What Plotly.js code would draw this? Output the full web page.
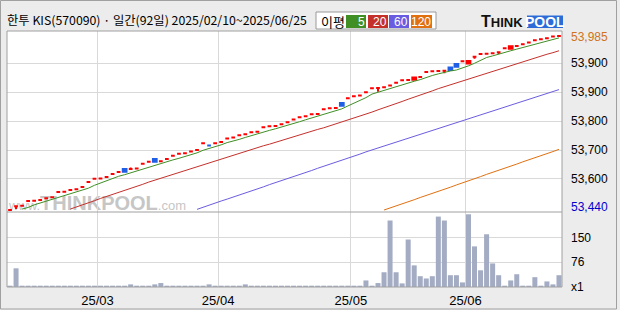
<!DOCTYPE html>
<html><head><meta charset="utf-8">
<script src="https://cdn.plot.ly/plotly-3.0.1.min.js"></script>
<style>html,body{margin:0;padding:0;background:#ececec;}#chart{width:620px;height:310px;}</style>
</head><body><div id="chart"></div>
<script>
const stockName = "한투 KIS(570090)";
const dates = [
"2025-02-10","2025-02-11","2025-02-12","2025-02-13","2025-02-14","2025-02-17","2025-02-18","2025-02-19","2025-02-20","2025-02-21",
"2025-02-24","2025-02-25","2025-02-26","2025-02-27","2025-02-28",
"2025-03-04","2025-03-05","2025-03-06","2025-03-07","2025-03-10","2025-03-11","2025-03-12","2025-03-13","2025-03-14",
"2025-03-17","2025-03-18","2025-03-19","2025-03-20","2025-03-21","2025-03-24","2025-03-25","2025-03-26","2025-03-27","2025-03-28","2025-03-31",
"2025-04-01","2025-04-02","2025-04-03","2025-04-04","2025-04-07","2025-04-08","2025-04-09","2025-04-10","2025-04-11",
"2025-04-14","2025-04-15","2025-04-16","2025-04-17","2025-04-18","2025-04-21","2025-04-22","2025-04-23","2025-04-24","2025-04-25",
"2025-04-28","2025-04-29","2025-04-30",
"2025-05-02","2025-05-07","2025-05-08","2025-05-09","2025-05-12","2025-05-13","2025-05-14","2025-05-15","2025-05-16",
"2025-05-19","2025-05-20","2025-05-21","2025-05-22","2025-05-23","2025-05-26","2025-05-27","2025-05-28","2025-05-29","2025-05-30",
"2025-06-02","2025-06-04","2025-06-05","2025-06-09","2025-06-10","2025-06-11","2025-06-12","2025-06-13",
"2025-06-16","2025-06-17","2025-06-18","2025-06-19","2025-06-20","2025-06-23","2025-06-24","2025-06-25"];

const openP = [53440,53452,53453,53468,53469,53471,53477,53480,53496,53497,
53502,53505,53512,53527,53537,53538,53543,53552,53558,53568,
53568,53569,53584,53590,53599,53592,53599,53609,53615,53617,
53622,53627,53648,53641,53648,53652,53663,53666,53673,53676,
53682,53684,53698,53701,53702,53707,53713,53722,53729,53732,
53738,53739,53754,53757,53758,53773,53788,53794,53797,53807,
53819,53820,53822,53828,53836,53844,53845,53846,53854,53870,
53872,53873,53874,53884,53895,53903,53896,53917,53926,53927,
53928,53931,53944,53942,53951,53956,53962,53969,53972,53975,
53980,53982];
const highP = [53440,53452,53453,53468,53469,53471,53477,53480,53496,53497,
53502,53505,53512,53527,53537,53538,53543,53552,53558,53568,
53572,53569,53584,53590,53599,53592,53599,53609,53615,53617,
53622,53627,53648,53641,53648,53652,53663,53666,53673,53676,
53682,53684,53698,53701,53702,53707,53713,53722,53729,53732,
53738,53739,53754,53757,53758,53773,53788,53794,53797,53807,
53819,53820,53822,53828,53836,53844,53845,53853,53854,53870,
53872,53873,53874,53884,53895,53903,53904,53917,53926,53927,
53928,53934,53944,53950,53951,53956,53962,53969,53972,53978,
53980,53985];
const lowP = [53440,53443,53453,53468,53469,53471,53477,53480,53496,53497,
53502,53505,53512,53527,53537,53538,53543,53552,53558,53559,
53568,53569,53584,53590,53590,53592,53599,53609,53615,53617,
53622,53627,53648,53641,53648,53652,53663,53666,53673,53676,
53682,53684,53698,53701,53702,53707,53713,53722,53729,53732,
53738,53739,53754,53757,53758,53765,53788,53794,53797,53807,
53819,53808,53822,53828,53836,53844,53845,53846,53854,53870,
53872,53873,53866,53876,53886,53903,53896,53911,53926,53927,
53928,53926,53944,53942,53951,53956,53962,53969,53972,53972,
53980,53979];
const closeP = [53440,53452,53453,53468,53469,53471,53477,53480,53496,53497,
53502,53505,53512,53527,53537,53538,53543,53552,53558,53559,
53568,53569,53584,53590,53590,53592,53599,53609,53615,53617,
53622,53627,53648,53641,53648,53652,53663,53666,53673,53676,
53682,53684,53698,53701,53702,53707,53713,53722,53729,53732,
53738,53739,53754,53757,53758,53765,53788,53794,53797,53807,
53819,53820,53822,53828,53836,53844,53845,53853,53854,53870,
53872,53873,53874,53876,53886,53903,53904,53917,53926,53927,
53928,53931,53944,53950,53951,53956,53962,53969,53972,53975,
53980,53982];

const volume = [4,57,4,4,4,4,4,4,4,4,
4,4,4,4,4,4,4,4,4,4,
8,4,4,4,8,12,4,4,4,4,
4,4,4,8,4,4,4,4,4,8,
4,4,4,4,4,4,4,4,4,4,
4,4,4,4,4,4,4,4,4,20,
4,12,45,203,45,11,145,66,33,26,
33,215,203,36,36,14,222,124,51,161,
72,36,4,20,39,4,4,30,4,17,
8,36];

const ma5 = [null,null,53443,53448,53456,53462,53467,53473,53478,53484,
53490,53496,53502,53508,53517,53524,53531,53539,53545,53550,
53556,53561,53567,53574,53580,53585,53591,53596,53601,53606,
53612,53618,53626,53631,53637,53643,53650,53654,53660,53666,
53672,53676,53683,53688,53693,53698,53704,53709,53715,53721,
53727,53732,53738,53744,53749,53755,53764,53772,53780,53790,
53801,53807,53813,53819,53825,53830,53835,53841,53846,53853,
53859,53864,53869,53873,53876,53882,53889,53897,53907,53915,
53920,53926,53931,53936,53941,53946,53953,53958,53962,53967,
53972,53976];
const ma20 = [null,null,null,null,null,null,null,null,null,null,
53443,53449,53456,53462,53469,53476,53482,53489,53495,53502,
53508,53514,53520,53527,53533,53539,53545,53551,53557,53563,
53569,53575,53582,53588,53593,53599,53605,53611,53617,53622,
53628,53634,53640,53645,53651,53657,53662,53668,53674,53679,
53685,53691,53696,53702,53707,53713,53719,53726,53732,53738,
53745,53752,53758,53765,53771,53778,53785,53791,53798,53804,
53811,53818,53824,53830,53836,53843,53849,53855,53861,53867,
53873,53878,53885,53891,53896,53902,53908,53914,53920,53925,
53930,53936];
const ma60 = [null,null,null,null,null,null,null,null,null,null,
null,null,null,null,null,null,null,null,null,null,
null,null,null,null,null,null,null,null,null,null,
null,53442,53449,53455,53461,53468,53474,53480,53487,53493,
53500,53506,53512,53519,53525,53531,53538,53544,53551,53557,
53563,53570,53576,53582,53589,53595,53602,53608,53614,53621,
53627,53633,53639,53645,53652,53658,53664,53670,53676,53682,
53689,53695,53701,53706,53712,53718,53724,53731,53737,53743,
53749,53755,53761,53767,53773,53779,53785,53791,53797,53803,
53809,53815];
const ma120 = [null,null,null,null,null,null,null,null,null,null,
null,null,null,null,null,null,null,null,null,null,
null,null,null,null,null,null,null,null,null,null,
null,null,null,null,null,null,null,null,null,null,
null,null,null,null,null,null,null,null,null,null,
null,null,null,null,null,null,null,null,null,null,
null,null,53440,53446,53453,53459,53466,53472,53479,53485,
53492,53498,53505,53511,53518,53524,53531,53537,53544,53551,
53557,53564,53570,53577,53583,53590,53596,53603,53609,53616,
53622,53629];

const maPeriods = [5, 20, 60, 120];
const maColors = ["#3f8f24", "#c4302a", "#6a5ce0", "#e07010"];
const priceTickVals = [53897.8, 53807.5, 53717.2, 53626.9, 53536.6];
const priceTickText = ["53,900", "53,900", "53,800", "53,700", "53,600"];
const volTickVals = [0, 76, 150];
const volTickText = ["x1", "76", "150"];
const priceRange = [53433.8, 53997.5];
const volRange = [0, 229];

// ---- geometry helpers ----
const W = 620, H = 310, L = 7, R = 58, T = 31, B = 23;
const PW = W - L - R, PH = H - T - B;
const PX = x => (x - L) / PW;
const PY = y => (H - B - y) / PH;
const volFrac = 75 / PH;

const n = dates.length;
const xs = dates.map((d, i) => i);
const monthTickVals = [], monthTickText = [];
for (let i = 1; i < n; i++) {
  if (dates[i].slice(0, 7) !== dates[i - 1].slice(0, 7)) {
    monthTickVals.push(i - 0.5);
    monthTickText.push(dates[i].slice(2, 4) + "/" + dates[i].slice(5, 7));
  }
}
const maxHigh = Math.max(...highP);
const minLow = Math.min(...lowP);
const fmt = v => v.toLocaleString("en-US");

const traces = [
  {
    type: "candlestick", x: xs, open: openP, high: highP, low: lowP, close: closeP,
    xaxis: "x", yaxis: "y", whiskerwidth: 0, hoverinfo: "skip", showlegend: false,
    increasing: { line: { color: "#ff0000", width: 2 }, fillcolor: "#ff0000" },
    decreasing: { line: { color: "#1f5fe6", width: 2 }, fillcolor: "#1f5fe6" }
  }
];
[ma5, ma20, ma60, ma120].forEach((arr, k) => {
  traces.push({
    type: "scatter", mode: "lines", x: xs, y: arr, xaxis: "x", yaxis: "y",
    line: { color: maColors[k], width: 1 }, hoverinfo: "skip", showlegend: false,
    name: "MA" + maPeriods[k]
  });
});
traces.push({
  type: "bar", x: xs, y: volume, xaxis: "x", yaxis: "y2",
  marker: { color: "#a3acc3", line: { width: 0 } }, hoverinfo: "skip", showlegend: false
});

const numFont = "Liberation Sans, Arial, sans-serif";
const krFont = "Noto Sans CJK KR, sans-serif";

const shapes = [
  { type: "rect", xref: "paper", yref: "paper", x0: PX(0.5), x1: PX(616.5), y0: PY(309), y1: PY(0.5),
    line: { color: "#a0a0a0", width: 1 }, fillcolor: "rgba(0,0,0,0)" },
  { type: "rect", xref: "paper", yref: "paper", x0: 0, x1: 1, y0: 0, y1: 1,
    line: { color: "#a0a0a0", width: 1 }, fillcolor: "rgba(0,0,0,0)" },
  { type: "line", xref: "paper", yref: "paper", x0: 0, x1: 1, y0: volFrac, y1: volFrac,
    line: { color: "#a0a0a0", width: 1 } },
  { type: "rect", xref: "x domain", yref: "y domain", x0: PX(20), x1: PX(175),
    y0: 0, y1: 22 / 181, layer: "below",
    line: { width: 0 }, fillcolor: "rgba(0,0,0,0)",
    label: { text: "<span style='font-size:13px'>www.</span><b>THINKPOOL</b><span style='font-size:13px'>.com</span>",
      font: { size: 20, color: "#c6c6c6", family: "Liberation Sans, sans-serif" },
      textposition: "middle center" } },
  { type: "rect", xref: "paper", yref: "paper", x0: PX(316), x1: PX(436), y0: PY(29), y1: PY(12),
    line: { color: "#9a9a9a", width: 1 }, fillcolor: "#ffffff" },
  { type: "rect", xref: "paper", yref: "paper", x0: PX(527), x1: PX(563), y0: PY(28), y1: PY(15.5),
    line: { width: 0 }, fillcolor: "#2c6cd8" }
];
const legBoxes = [[346, 366], [368, 388], [389, 409], [411, 432]];
const annotations = [
  { xref: "paper", yref: "paper", x: PX(319), y: PY(21), xanchor: "left", yanchor: "middle",
    text: "이평", showarrow: false, font: { size: 13, family: krFont, color: "#000" } },
  { xref: "paper", yref: "paper", x: PX(479), y: PY(21.5), xanchor: "left", yanchor: "middle",
    text: "<span style='font-size:16px'>T</span>HINK", showarrow: false,
    font: { size: 13, family: "Liberation Sans, sans-serif", color: "#111", weight: "bold" } },
  { xref: "paper", yref: "paper", x: PX(545), y: PY(22), xanchor: "center", yanchor: "middle",
    text: "POOL", showarrow: false,
    font: { size: 14, family: "Liberation Sans, sans-serif", color: "#ffffff", weight: "bold" } },
  { xref: "paper", yref: "y", x: 1, y: maxHigh, xanchor: "left", yanchor: "middle", xshift: 7, yshift: -2,
    text: fmt(maxHigh), showarrow: false, font: { size: 12, family: numFont, color: "#d0731c" } },
  { xref: "paper", yref: "y", x: 1, y: minLow, xanchor: "left", yanchor: "middle", xshift: 7, yshift: 3,
    text: fmt(minLow), showarrow: false, font: { size: 12, family: numFont, color: "#0000d0" } }
];
maPeriods.forEach((p, k) => {
  shapes.push({ type: "rect", xref: "paper", yref: "paper", x0: PX(legBoxes[k][0]), x1: PX(legBoxes[k][1]),
    y0: PY(28), y1: PY(15), line: { width: 0 }, fillcolor: maColors[k] });
  annotations.push({ xref: "paper", yref: "paper", x: PX(legBoxes[k][1] + 1), y: PY(21.5),
    xanchor: "right", yanchor: "middle", text: String(p), showarrow: false,
    font: { size: 12, family: numFont, color: "#ffffff" } });
});

const layout = {
  width: W, height: H,
  margin: { l: L, r: R, t: T, b: B, pad: 0 },
  paper_bgcolor: "#ececec", plot_bgcolor: "#ffffff",
  showlegend: false, bargap: 0.17, boxgap: 0.38, boxgroupgap: 0,
  title: {
    text: stockName + " · 일간(" + n + "일) " + dates[0].replace(/-/g, "/") + "~" + dates[n - 1].replace(/-/g, "/"),
    x: 7 / W, xanchor: "left", xref: "container", y: 1 - 21 / H, yanchor: "middle", yref: "container",
    font: { size: 12.3, family: krFont, color: "#000" }
  },
  xaxis: {
    anchor: "y2", range: [-0.5, n - 0.5], tickmode: "array", tickvals: monthTickVals, ticktext: monthTickText,
    showgrid: true, gridcolor: "#d9d9d9", gridwidth: 1, zeroline: false, showline: false, ticks: "",
    ticklabelstandoff: 4,
    tickfont: { size: 13, family: numFont, color: "#000" }, rangeslider: { visible: false }, fixedrange: true
  },
  yaxis: {
    domain: [volFrac, 1], range: priceRange, side: "right", anchor: "x",
    tickmode: "array", tickvals: priceTickVals, ticktext: priceTickText,
    showgrid: true, gridcolor: "#d9d9d9", zeroline: false, showline: false, ticks: "",
    ticklabelstandoff: 8, tickfont: { size: 12, family: numFont, color: "#000" }, fixedrange: true
  },
  yaxis2: {
    domain: [0, volFrac], range: volRange, side: "right", anchor: "x",
    tickmode: "array", tickvals: volTickVals, ticktext: volTickText,
    showgrid: true, gridcolor: "#d9d9d9", zeroline: false, showline: false, ticks: "",
    ticklabelstandoff: 8, tickfont: { size: 12, family: numFont, color: "#000" }, fixedrange: true
  },
  shapes: shapes,
  annotations: annotations
};

Plotly.newPlot("chart", traces, layout, { staticPlot: true, displayModeBar: false });
</script>
</body></html>
